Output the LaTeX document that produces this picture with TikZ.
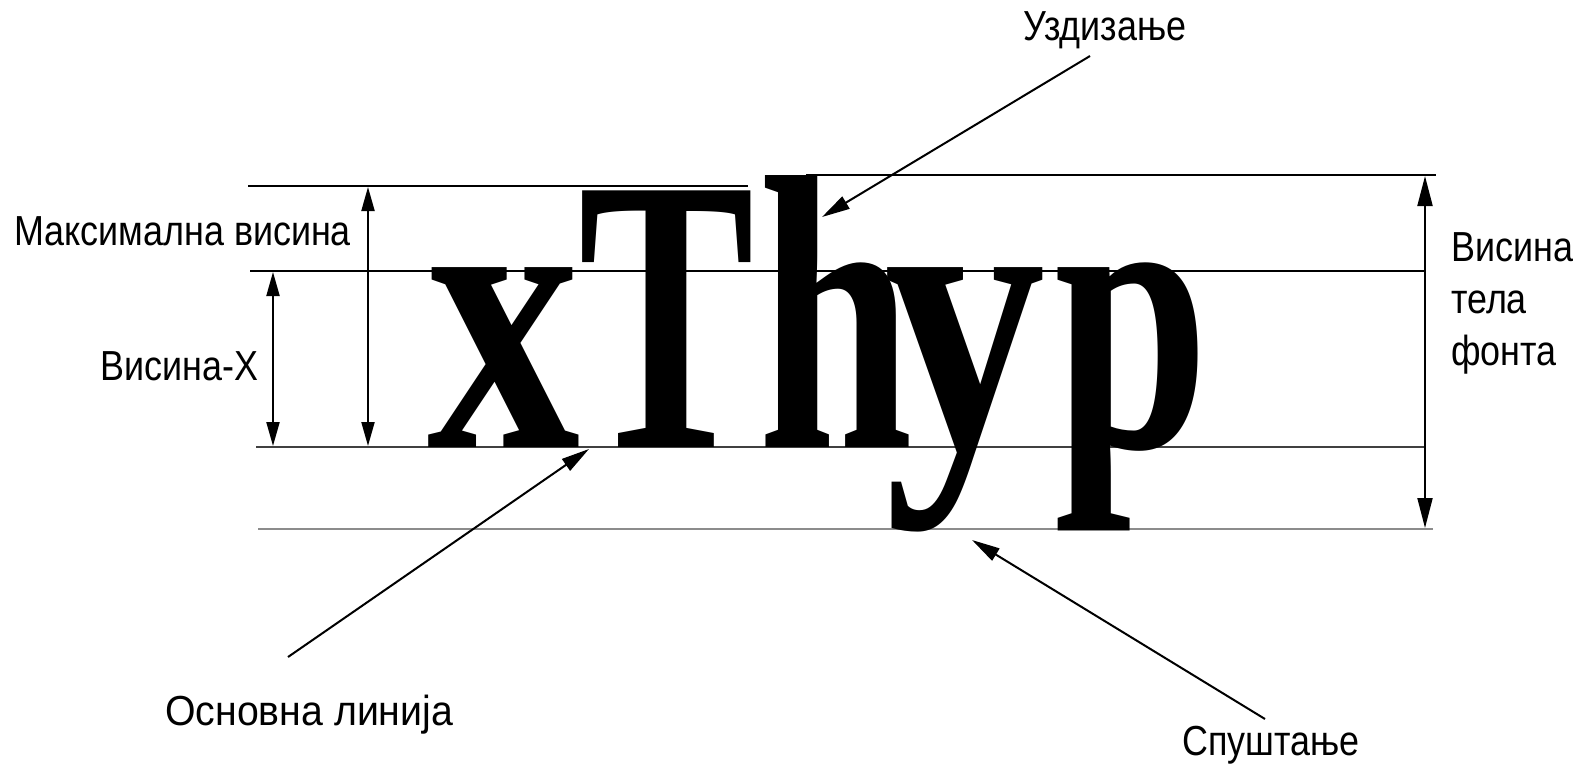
\documentclass[tikz,border=0pt]{standalone}
\usepackage{fontspec}
\setmainfont{Liberation Sans}
\newfontfamily\lblfont[FakeStretch=0.855]{Liberation Sans}
\newfontfamily\lblwidefont[FakeStretch=0.935]{Liberation Sans}
\newfontfamily\glyphfont[FakeStretch=0.71]{Liberation Serif Bold}
\usetikzlibrary{arrows.meta}
\begin{document}
\begin{tikzpicture}[x=1pt,y=-1pt,
  guide/.style={line width=2.6pt},
  dimarrow/.style={line width=2pt,{Triangle[length=24pt,width=13pt]}-{Triangle[length=24pt,width=13pt]}},
  bodyarrow/.style={line width=2pt,{Triangle[length=30pt,width=15pt]}-{Triangle[length=30pt,width=15pt]}},
  leader/.style={line width=2pt,-{Triangle[length=28pt,width=14pt]}},
  lbl/.style={inner sep=0pt,anchor=base west,font=\lblfont\fontsize{42}{52}\selectfont},
  bigword/.style={inner sep=0pt,anchor=base west,font=\glyphfont\fontsize{392}{392}\selectfont}
]
\useasboundingbox (0,0) rectangle (1581,764);
% guide lines
\coordinate (capL) at (248,186);  \coordinate (capR) at (748,186);
\coordinate (ascL) at (806,175);  \coordinate (ascR) at (1436,175);
\coordinate (xhL)  at (250,271);  \coordinate (xhR)  at (1424,271);
\coordinate (baseL) at (256,447); \coordinate (baseR) at (1424,447);
\coordinate (descL) at (258,529); \coordinate (descR) at (1433,529);
\draw[guide] (capL) -- (capR);
\draw[guide] (ascL) -- (ascR);
\draw[guide] (xhL) -- (xhR);
\draw[guide,color=black!75] (baseL) -- (baseR);
\draw[guide,color=black!45] (descL) -- (descR);
% the sample word
\node[bigword] (word) at (427,447) {\rlap{\scalebox{1.1}[1]{x}}\hspace{151pt}\rlap{\scalebox{0.95}[1]{T}}\hspace{180pt}\rlap{h}\hspace{126pt}\rlap{\scalebox{1.16}[1]{y}}\hspace{170pt}p};
% dimension arrows
\coordinate (maxT) at (368,187); \coordinate (maxB) at (368,446);
\coordinate (xT) at (273,272);   \coordinate (xB) at (273,446);
\coordinate (bT) at (1425,176);  \coordinate (bB) at (1425,528);
\draw[dimarrow] (maxT) -- (maxB);
\draw[dimarrow] (xT) -- (xB);
\draw[bodyarrow] (bT) -- (bB);
% labels
\node[lbl] (maxh) at (14,245) {Максимална висина};
\node[lbl] (xh) at (100,380) {Висина-X};
\node[lbl,align=left] (body) at (1451,365) {Висина\\тела\\фонта};
\node[lbl] (asc) at (1023,40) {Уздизање};
\node[lbl,font=\lblwidefont\fontsize{42}{52}\selectfont] (base) at (165,725) {Основна линија};
\node[lbl] (desc) at (1182,755) {Спуштање};
% leaders
\coordinate (ascS) at (1090,56);  \coordinate (ascE) at (822,217);
\coordinate (baseS) at (288,657); \coordinate (baseE) at (589,449);
\coordinate (descS) at (1265,719); \coordinate (descE) at (972,540);
\draw[leader] (ascS) -- (ascE);
\draw[leader] (baseS) -- (baseE);
\draw[leader] (descS) -- (descE);
\end{tikzpicture}
\end{document}
